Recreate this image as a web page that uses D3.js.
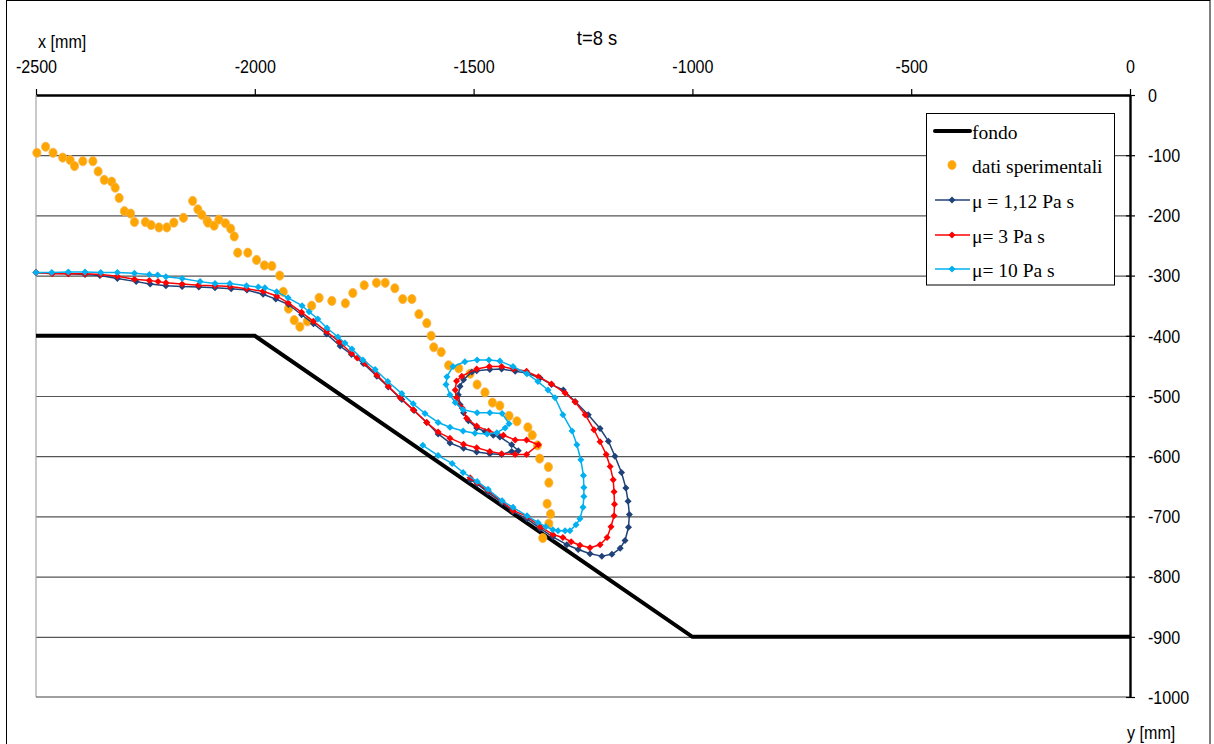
<!DOCTYPE html>
<html><head><meta charset="utf-8">
<script src="https://cdn.jsdelivr.net/npm/d3@7"></script>
<style>
html,body{margin:0;padding:0;background:#fff;}
svg{display:block;}
.ax text,.lbl{font-family:"Liberation Sans",Arial,sans-serif;font-size:17.5px;fill:#000;}
.leg text{font-family:"Liberation Serif","Times New Roman",serif;font-size:19.5px;fill:#000;}
</style></head><body>
<svg id="chart" width="1214" height="744"></svg>
<script>
// Tick values of the two axes (mm)
const xTicks = [-2500, -2000, -1500, -1000, -500, 0];
const yTicks = [0, -100, -200, -300, -400, -500, -600, -700, -800, -900, -1000];

// Channel bottom profile [y, x] in mm
const bed = [[-2500, -400], [-2000, -400], [-1000, -900], [0, -900]];

// Measured free-surface points
const experimental = [
  [-2498,-96],[-2478,-86],[-2461,-96],[-2439,-104],[-2422,-108],[-2412,-118],[-2393,-110],[-2370,-110],
  [-2358,-127],[-2344,-141],[-2327,-144],[-2319,-154],[-2310,-171],[-2298,-193],[-2284,-197],[-2275,-211],
  [-2250,-211],[-2237,-216],[-2219,-220],[-2201,-220],[-2185,-212],[-2163,-204],[-2142,-176],[-2130,-190],
  [-2121,-199],[-2109,-209],[-2107,-212],[-2093,-217],[-2082,-207],[-2067,-213],[-2055,-222],[-2047,-235],
  [-2039,-262],[-2016,-262],[-1996,-274],[-1978,-283],[-1961,-284],[-1943,-300],[-1935,-327],[-1923,-355],
  [-1910,-374],[-1897,-385],[-1880,-376],[-1870,-350],[-1853,-337],[-1824,-342],[-1793,-346],[-1776,-329],
  [-1750,-316],[-1722,-312],[-1702,-312],[-1680,-321],[-1662,-339],[-1641,-339],[-1625,-364],[-1607,-379],
  [-1597,-400],[-1591,-419],[-1574,-427],[-1557,-449],[-1534,-454],[-1508,-463],[-1492,-481],[-1474,-494],
  [-1457,-511],[-1440,-516],[-1419,-533],[-1401,-542],[-1376,-552],[-1366,-565],[-1354,-582],[-1349,-604],
  [-1329,-618],[-1328,-644],[-1332,-679],[-1324,-696],[-1328,-712],[-1342,-736]
];

// Simulated profiles, mu = 1.12 Pa s
const mu112 = [
  [-2500,-295],[-2463,-296],[-2426,-297],[-2388,-298],[-2354,-300],[-2314,-305],[-2271,-310],[-2239,-314],
  [-2203,-317],[-2166,-318],[-2128,-319],[-2091,-320],[-2054,-322],[-2018,-324],[-1981,-331],[-1952,-339],
  [-1923,-348],[-1893,-365],[-1866,-380],[-1836,-397],[-1805,-417],[-1779,-431],[-1752,-446],[-1721,-467],
  [-1695,-485],[-1664,-506],[-1636,-524],[-1607,-544],[-1581,-563],[-1554,-578],[-1523,-587],[-1493,-593],
  [-1463,-596],[-1436,-597],[-1413,-592],[-1398,-591],
  [-1413,-581],[-1440,-568],[-1455,-565],[-1474,-559],[-1493,-553],[-1512,-541],[-1523,-528],[-1531,-514],
  [-1535,-498],[-1531,-484],[-1523,-473],[-1504,-460],[-1493,-458],[-1463,-456],[-1436,-455],[-1405,-459],
  [-1379,-462],[-1348,-470],[-1322,-481],[-1295,-490],[-1268,-509],[-1238,-531],[-1211,-554],[-1192,-575],
  [-1177,-600],[-1162,-627],[-1152,-653],[-1147,-675],[-1144,-697],[-1146,-718],[-1154,-740],[-1165,-753],
  [-1184,-763],[-1207,-766],[-1234,-762],[-1261,-755],[-1287,-747],[-1319,-734],[-1348,-720],[-1378,-704],
  [-1410,-692],[-1435,-677],[-1467,-660],[-1492,-646],[-1508,-639]
];

// mu = 3 Pa s
const mu3 = [
  [-2500,-295],[-2463,-297],[-2426,-297],[-2388,-297],[-2352,-298],[-2314,-301],[-2275,-306],[-2241,-308],
  [-2221,-310],[-2203,-312],[-2166,-314],[-2129,-316],[-2091,-317],[-2057,-318],[-2019,-322],[-1981,-326],
  [-1950,-334],[-1924,-345],[-1893,-361],[-1866,-376],[-1836,-393],[-1807,-410],[-1779,-429],[-1766,-437],
  [-1748,-446],[-1721,-465],[-1695,-484],[-1668,-503],[-1638,-523],[-1607,-544],[-1581,-560],[-1554,-570],
  [-1523,-580],[-1493,-586],[-1463,-592],[-1436,-596],[-1405,-597],[-1379,-597],[-1352,-581],
  [-1379,-573],[-1405,-573],[-1432,-565],[-1466,-558],[-1493,-550],[-1516,-537],[-1526,-520],[-1539,-503],
  [-1542,-490],[-1539,-475],[-1527,-467],[-1493,-455],[-1464,-451],[-1436,-451],[-1409,-455],[-1379,-459],
  [-1352,-468],[-1322,-480],[-1291,-495],[-1268,-510],[-1245,-531],[-1225,-556],[-1211,-576],[-1197,-597],
  [-1188,-617],[-1181,-639],[-1179,-659],[-1178,-680],[-1179,-699],[-1186,-717],[-1195,-735],[-1211,-747],
  [-1234,-752],[-1257,-748],[-1277,-742],[-1296,-735],[-1319,-730],[-1348,-717],[-1378,-700],[-1410,-690],
  [-1435,-675],[-1467,-657],[-1492,-644],[-1508,-636]
];

// mu = 10 Pa s
const mu10 = [
  [-2500,-295],[-2464,-295],[-2426,-294],[-2388,-294],[-2352,-295],[-2314,-295],[-2275,-296],[-2241,-298],
  [-2222,-299],[-2203,-302],[-2166,-305],[-2125,-310],[-2091,-313],[-2057,-313],[-2019,-317],[-1992,-319],
  [-1977,-320],[-1950,-327],[-1924,-337],[-1892,-350],[-1876,-360],[-1856,-372],[-1835,-387],[-1810,-402],
  [-1794,-412],[-1778,-422],[-1753,-440],[-1725,-456],[-1696,-476],[-1664,-496],[-1638,-513],[-1611,-529],
  [-1581,-544],[-1554,-552],[-1524,-558],[-1497,-562],[-1469,-563],[-1447,-561],[-1428,-553],[-1419,-546],
  [-1435,-529],[-1463,-528],[-1492,-528],[-1524,-523],[-1542,-511],[-1554,-498],[-1563,-481],[-1561,-468],
  [-1547,-451],[-1520,-443],[-1492,-440],[-1465,-440],[-1440,-442],[-1410,-451],[-1378,-463],[-1353,-476],
  [-1330,-490],[-1314,-503],[-1296,-531],[-1275,-558],[-1264,-581],[-1255,-606],[-1249,-632],[-1248,-652],
  [-1248,-667],[-1250,-685],[-1257,-704],[-1266,-714],[-1280,-724],[-1291,-724],[-1307,-724],[-1319,-722],
  [-1335,-717],[-1353,-710],[-1378,-699],[-1410,-685],[-1435,-674],[-1467,-655],[-1492,-642],[-1524,-627],
  [-1549,-612],[-1581,-599],[-1616,-582]
];

const legendLabels = ["fondo", "dati sperimentali", "\u03bc = 1,12 Pa s", "\u03bc= 3 Pa s", "\u03bc= 10 Pa s"];
const colors = { bed: "#000000", exp: "#ffa500", mu112: "#1f4279", mu3: "#ff0000", mu10: "#00b0f0" };

const svg = d3.select("#chart");
const x = d3.scaleLinear().domain([-2500, 0]).range([36, 1130]);
const y = d3.scaleLinear().domain([0, -1000]).range([95, 697]);
const SX = 0.92; // narrow sans labels

// outer frame
svg.append("rect").attr("x", 6.5).attr("y", 0.5).attr("width", 1203.5).attr("height", 780)
  .attr("fill", "#fff").attr("stroke", "#000").attr("stroke-width", 1);

// horizontal gridlines
const grid = svg.append("g").attr("transform", `translate(${x(0)},0)`)
  .call(d3.axisRight(y).tickValues(yTicks.filter(v => v !== 0 && v !== -1000))
    .tickSize(-(x(0) - x(-2500))).tickFormat(""));
grid.select(".domain").remove();
grid.selectAll("line").attr("stroke", "#555").attr("stroke-width", 1.2);

// left and bottom edges of the plot
svg.append("line").attr("x1", x(-2500)).attr("x2", x(-2500)).attr("y1", y(0)).attr("y2", y(-1000))
  .attr("stroke", "#a6a6a6").attr("stroke-width", 1.2);
svg.append("line").attr("x1", x(-2500)).attr("x2", x(0)).attr("y1", y(-1000)).attr("y2", y(-1000))
  .attr("stroke", "#808080").attr("stroke-width", 1.4);

// top axis (y [mm])
const xAxis = svg.append("g").attr("class", "ax").attr("transform", `translate(0,${y(0)})`)
  .call(d3.axisTop(x).tickValues(xTicks).tickSize(6).tickSizeOuter(0).tickFormat(d => String(d)));
xAxis.select(".domain").attr("stroke", "#000").attr("stroke-width", 2.4);
xAxis.selectAll(".tick line").attr("stroke", "#000").attr("stroke-width", 1.2);
xAxis.selectAll(".tick text").attr("y", -22.5).attr("dy", 0).attr("transform", `scale(${SX},1)`)
  .attr("font-family", null).attr("font-size", null);

// right axis (x [mm])
const yAxis = svg.append("g").attr("class", "ax").attr("transform", `translate(${x(0)},0)`)
  .call(d3.axisRight(y).tickValues(yTicks).tickSize(5).tickSizeOuter(0).tickFormat(d => String(d)));
yAxis.select(".domain").attr("stroke", "#000").attr("stroke-width", 2.4);
yAxis.selectAll(".tick line").attr("x1", -4).attr("stroke", "#000").attr("stroke-width", 1.2);
yAxis.selectAll(".tick text").attr("x", 18 / SX).attr("dy", "0.36em").attr("transform", `scale(${SX},1)`)
  .attr("font-family", null).attr("font-size", null);

// axis titles and time label
function label(txt, px, py, anchor, size) {
  const t = svg.append("text").attr("class", "lbl").attr("text-anchor", anchor || "start")
    .attr("transform", `translate(${px},${py}) scale(${SX},1)`).text(txt);
  if (size) t.style("font-size", size + "px");
}
label("x [mm]", 38, 48);
label("t=8 s", 597, 45, "middle", 20);
label("y [mm]", 1127, 739);

const line = d3.line().x(d => x(d[0])).y(d => y(d[1]));
const diamond = "M0,-3.5L3.5,0L0,3.5L-3.5,0Z";

// bottom profile
svg.append("path").datum(bed).attr("d", line).attr("fill", "none")
  .attr("stroke", colors.bed).attr("stroke-width", 4);

// measured points
svg.append("g").selectAll("ellipse").data(experimental).join("ellipse")
  .attr("cx", d => x(d[0])).attr("cy", d => y(d[1])).attr("rx", 4.1).attr("ry", 4.6)
  .attr("fill", colors.exp).attr("stroke", "#f5b54e").attr("stroke-width", 0.8);

// simulated profiles with diamond markers
function series(data, color) {
  const g = svg.append("g");
  g.append("path").datum(data).attr("d", line).attr("fill", "none")
    .attr("stroke", color).attr("stroke-width", 1.5).attr("stroke-linejoin", "round");
  g.selectAll("path.m").data(data).join("path").attr("class", "m")
    .attr("transform", d => `translate(${x(d[0])},${y(d[1])})`)
    .attr("d", diamond).attr("fill", color);
}
series(mu112, colors.mu112);
series(mu3, colors.mu3);
series(mu10, colors.mu10);

// legend
const leg = svg.append("g").attr("class", "leg");
leg.append("rect").attr("x", 926.5).attr("y", 113.5).attr("width", 188).attr("height", 171.5)
  .attr("fill", "#fff").attr("stroke", "#000").attr("stroke-width", 1);
const rowsY = [131, 165, 200, 235, 269];
leg.append("line").attr("x1", 935).attr("x2", 970).attr("y1", rowsY[0]).attr("y2", rowsY[0])
  .attr("stroke", colors.bed).attr("stroke-width", 4).attr("stroke-linecap", "round");
leg.append("ellipse").attr("cx", 952).attr("cy", rowsY[1]).attr("rx", 4.1).attr("ry", 4.6)
  .attr("fill", colors.exp).attr("stroke", "#f5b54e").attr("stroke-width", 0.8);
[colors.mu112, colors.mu3, colors.mu10].forEach((c, i) => {
  const yy = rowsY[i + 2];
  leg.append("line").attr("x1", 935).attr("x2", 970).attr("y1", yy).attr("y2", yy)
    .attr("stroke", c).attr("stroke-width", 1.5);
  leg.append("path").attr("transform", `translate(952,${yy})`).attr("d", diamond).attr("fill", c);
});
legendLabels.forEach((t, i) => {
  leg.append("text").attr("x", 972).attr("y", rowsY[i] + 7.5).text(t);
});
</script>
</body></html>
